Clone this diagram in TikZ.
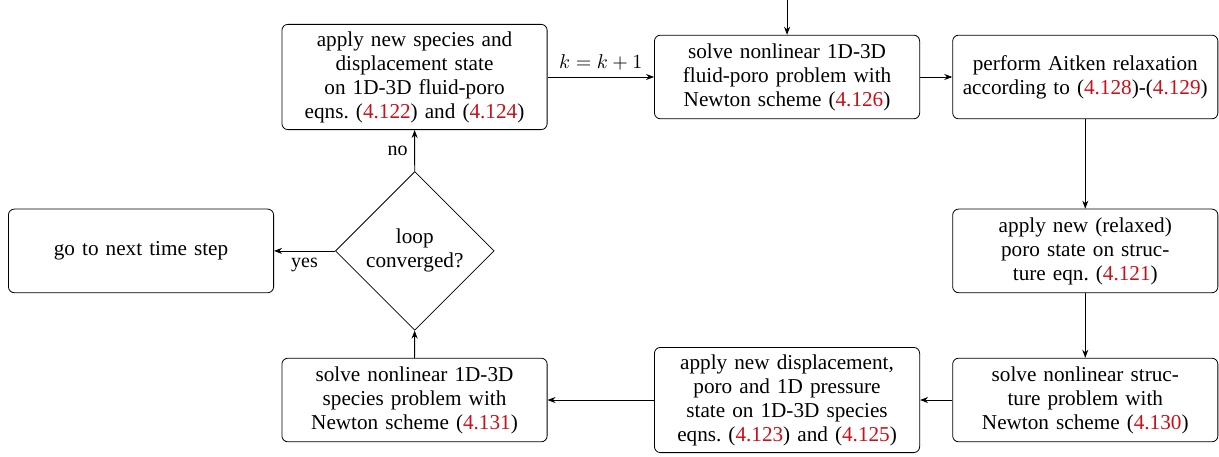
\documentclass[tikz,border=0pt]{standalone}
\usepackage{fontspec}
\setmainfont{Liberation Serif}
\usepackage{xcolor}
\usetikzlibrary{shapes.geometric,arrows.meta,positioning}

\definecolor{refred}{RGB}{200,16,24}
\newcommand{\refnum}[1]{(\textcolor{refred}{#1})}
\frenchspacing

\begin{document}
\begin{tikzpicture}[
        stepbox/.style={draw, rounded corners=3pt, align=center, text width=4.4cm,
                        minimum width=4.66cm, minimum height=1.47cm, inner sep=3.5pt,
                        font=\fontsize{10.6}{12}\selectfont},
        decide/.style={draw, diamond, align=center, inner sep=0pt,
                       minimum width=2.79cm, minimum height=2.79cm,
                       font=\fontsize{10.6}{12}\selectfont},
        flow/.style={-{Stealth[length=4pt,width=3pt]}}
    ]
        \useasboundingbox (0,0) rectangle (21.42,8.013);

        % Top row
        \node[stepbox] (applyFluid) at (7.284,6.66)
            {apply new species and\\ displacement state\\ on 1D-3D fluid-poro\\ eqns. \refnum{4.122} and \refnum{4.124}};
        \node[stepbox] (solveFluid) at (13.83,6.66)
            {solve nonlinear 1D-3D\\ fluid-poro problem with\\ Newton scheme \refnum{4.126}};
        \node[stepbox] (aitken) at (19.07,6.66)
            {perform Aitken relaxation\\ according to \refnum{4.128}-\refnum{4.129}};

        % Middle row
        \node[stepbox] (nextStep) at (2.478,3.604) {go to next time step};
        \node[decide] (converged) at (7.288,3.604) {loop\\ converged?};
        \node[stepbox] (applyPoro) at (19.07,3.604)
            {apply new (relaxed)\\ poro state on struc-\\ ture eqn. \refnum{4.121}};

        % Bottom row
        \node[stepbox] (solveSpecies) at (7.284,0.984)
            {solve nonlinear 1D-3D\\ species problem with\\ Newton scheme \refnum{4.131}};
        \node[stepbox] (applySpecies) at (13.83,0.984)
            {apply new displacement,\\ poro and 1D pressure\\ state on 1D-3D species\\ eqns. \refnum{4.123} and \refnum{4.125}};
        \node[stepbox] (solveStruct) at (19.07,0.984)
            {solve nonlinear struc-\\ ture problem with\\ Newton scheme \refnum{4.130}};

        % Connectors
        \coordinate (entry) at (13.83,8.013);
        \draw[flow] (entry) -- (solveFluid);
        \draw[flow] (applyFluid) -- node[above] {$k=k+1$} (solveFluid);
        \draw[flow] (solveFluid) -- (aitken);
        \draw[flow] (aitken) -- (applyPoro);
        \draw[flow] (applyPoro) -- (solveStruct);
        \draw[flow] (solveStruct) -- (applySpecies);
        \draw[flow] (applySpecies) -- (solveSpecies);
        \draw[flow] (solveSpecies) -- (converged);
        \draw[flow] (converged) -- node[left] {no} (applyFluid);
        \draw[flow] (converged) -- node[below] {yes} (nextStep);
    \end{tikzpicture}
\end{document}
